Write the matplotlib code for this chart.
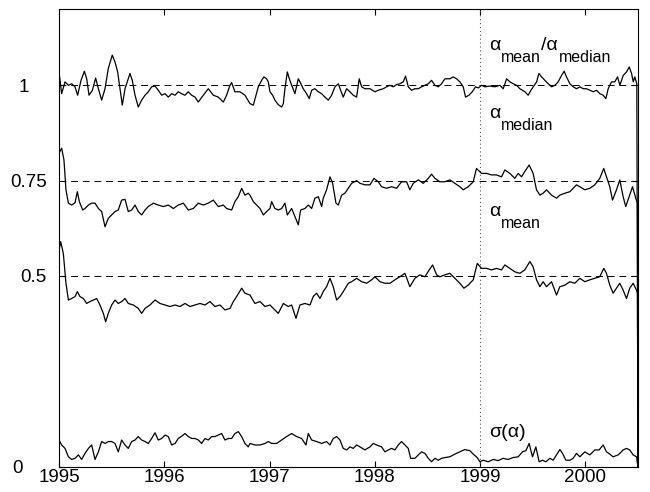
import numpy as np
import matplotlib
matplotlib.use("Agg")
import matplotlib.pyplot as plt
from matplotlib.transforms import ScaledTranslation

plt.rcParams['font.family'] = ['Liberation Sans', 'DejaVu Sans']

# ratio alpha_mean / alpha_median
t_ratio = [1995.000, 1995.025, 1995.057, 1995.089, 1995.120, 1995.152, 1995.177, 1995.209, 1995.241, 1995.263,
           1995.285, 1995.317, 1995.348, 1995.374, 1995.405, 1995.437, 1995.468, 1995.506, 1995.532, 1995.557,
           1995.579, 1995.601, 1995.627, 1995.658, 1995.674, 1995.696, 1995.722, 1995.753, 1995.785, 1995.817,
           1995.848, 1995.880, 1995.912, 1995.943, 1995.975, 1996.007, 1996.038, 1996.070, 1996.102, 1996.133,
           1996.165, 1996.197, 1996.228, 1996.260, 1996.292, 1996.323, 1996.371, 1996.418, 1996.466, 1996.513,
           1996.561, 1996.592, 1996.624, 1996.640, 1996.671, 1996.719, 1996.766, 1996.814,
           1996.846, 1996.871, 1996.893, 1996.925, 1996.947, 1996.972, 1996.988, 1997.004, 1997.029, 1997.051,
           1997.083, 1997.115, 1997.131, 1997.146, 1997.169, 1997.188, 1997.210, 1997.241, 1997.273, 1997.289,
           1997.320, 1997.352, 1997.377, 1997.400, 1997.431, 1997.463, 1997.495, 1997.526, 1997.558, 1997.590,
           1997.621, 1997.653, 1997.675, 1997.700, 1997.732, 1997.764, 1997.795, 1997.827, 1997.852, 1997.875,
           1997.906, 1997.954, 1998.001, 1998.033, 1998.080, 1998.112, 1998.144, 1998.175, 1998.207, 1998.238,
           1998.270, 1998.292, 1998.318, 1998.349, 1998.381, 1998.413, 1998.444, 1998.476, 1998.508, 1998.539,
           1998.571, 1998.603, 1998.634, 1998.666, 1998.697,
           1998.713, 1998.745, 1998.777, 1998.808, 1998.840, 1998.862, 1998.894, 1998.926, 1998.957, 1998.983,
           1999.014, 1999.046, 1999.093, 1999.141, 1999.188, 1999.220, 1999.252, 1999.283, 1999.315, 1999.347,
           1999.378, 1999.426, 1999.457, 1999.483, 1999.505, 1999.537, 1999.559, 1999.584, 1999.616, 1999.647,
           1999.679, 1999.711, 1999.742, 1999.774, 1999.799, 1999.821, 1999.853, 1999.885, 1999.916, 1999.948,
           1999.980, 2000.011, 2000.043, 2000.075, 2000.106, 2000.138, 2000.170, 2000.195, 2000.217, 2000.249,
           2000.280, 2000.306, 2000.328, 2000.360, 2000.391, 2000.417, 2000.439, 2000.455, 2000.470, 2000.489,
           2000.500]
ratio = [1.035, 0.978, 1.009, 1.000, 1.004, 0.996, 0.974, 1.013, 1.037, 1.017,
         0.974, 0.987, 1.019, 0.991, 0.961, 0.991, 1.044, 1.079, 1.061, 1.035,
         0.991, 0.948, 0.991, 1.017, 1.031, 1.013, 0.974, 0.943, 0.961, 0.974,
         0.983, 0.996, 0.998, 0.987, 0.974, 0.978, 0.969, 0.978, 0.974, 0.983,
         0.978, 0.974, 0.983, 0.974, 0.969, 0.956, 0.974, 0.991, 0.974, 0.969,
         0.956, 0.974, 1.000, 1.007, 0.983, 0.983, 0.974, 0.952,
         0.948, 0.974, 0.996, 1.013, 1.022, 1.017, 1.009, 0.983, 0.974, 0.961,
         0.949, 0.943, 0.952, 0.991, 1.035, 1.017, 1.000, 0.978, 1.017, 1.009,
         0.991, 0.978, 0.965, 0.987, 0.991, 0.983, 0.978, 0.969, 0.961, 0.974,
         0.996, 1.004, 0.987, 0.969, 0.991, 0.983, 0.974, 0.969, 1.017, 0.996,
         0.991, 0.991, 0.983, 0.987, 0.991, 0.996, 1.000, 0.996, 1.002, 1.004,
         1.009, 1.024, 0.996, 0.987, 0.991, 0.991, 0.996, 1.000, 1.004, 1.013,
         1.000, 0.996, 1.004, 1.017, 1.017,
         1.017, 1.022, 1.017, 1.009, 0.996, 0.969, 0.974, 0.983, 0.996, 0.993,
         1.000, 0.996, 0.998, 0.996, 1.000, 0.991, 1.017, 1.009, 1.004, 1.000,
         0.991, 0.983, 0.974, 0.987, 0.996, 1.009, 1.031, 1.022, 1.013, 1.004,
         0.996, 1.000, 1.009, 1.026, 1.037, 1.022, 1.004, 0.996, 0.991, 0.996,
         0.991, 0.991, 0.987, 0.983, 0.987, 0.978, 0.974, 0.965, 0.991, 1.009,
         1.009, 1.022, 1.000, 1.026, 1.035, 1.048, 1.031, 1.009, 1.022, 1.004,
         0.0]

# median exponent
t_median = [1995.000, 1995.025, 1995.047, 1995.066, 1995.089, 1995.120, 1995.152, 1995.174, 1995.193, 1995.225,
            1995.247, 1995.279, 1995.310, 1995.342, 1995.374, 1995.405, 1995.437, 1995.468, 1995.500, 1995.532,
            1995.563, 1995.595, 1995.627, 1995.658, 1995.690, 1995.722, 1995.753, 1995.785, 1995.817, 1995.848,
            1995.896, 1995.943, 1995.991, 1996.038, 1996.086, 1996.133, 1996.181, 1996.228, 1996.276, 1996.323,
            1996.371, 1996.418, 1996.466, 1996.513, 1996.561, 1996.592, 1996.640, 1996.671, 1996.703, 1996.735,
            1996.766, 1996.798,
            1996.814, 1996.846, 1996.877, 1996.909, 1996.941, 1996.972, 1997.004, 1997.020, 1997.051, 1997.083,
            1997.115, 1997.146, 1997.169, 1997.210, 1997.241, 1997.273, 1997.295, 1997.336, 1997.368, 1997.400,
            1997.431, 1997.463, 1997.495, 1997.510, 1997.542, 1997.574, 1997.599, 1997.631, 1997.653, 1997.685,
            1997.716, 1997.748, 1997.780, 1997.827, 1997.859, 1997.906, 1997.954, 1997.992, 1998.033, 1998.064,
            1998.112, 1998.159, 1998.207, 1998.254, 1998.302, 1998.333, 1998.365, 1998.413, 1998.460, 1998.508,
            1998.539, 1998.571, 1998.618,
            1998.665, 1998.713, 1998.760, 1998.808, 1998.840, 1998.887, 1998.935, 1998.966, 1999.014, 1999.061,
            1999.109, 1999.156, 1999.204, 1999.235, 1999.283, 1999.330, 1999.362, 1999.394, 1999.425, 1999.466,
            1999.504, 1999.536, 1999.568, 1999.599, 1999.631, 1999.679, 1999.726, 1999.758, 1999.805, 1999.853,
            1999.884, 1999.916, 1999.948, 1999.995, 2000.043, 2000.090, 2000.137, 2000.175, 2000.201, 2000.232,
            2000.258, 2000.296, 2000.327, 2000.359, 2000.384, 2000.416, 2000.448, 2000.479, 2000.495, 2000.500]
median = [0.822, 0.835, 0.804, 0.726, 0.691, 0.686, 0.692, 0.721, 0.695, 0.673,
          0.677, 0.686, 0.691, 0.691, 0.677, 0.669, 0.629, 0.651, 0.660, 0.669,
          0.673, 0.699, 0.701, 0.669, 0.673, 0.686, 0.669, 0.660, 0.673, 0.682,
          0.691, 0.686, 0.682, 0.686, 0.677, 0.686, 0.691, 0.673, 0.677, 0.691,
          0.686, 0.691, 0.699, 0.682, 0.686, 0.677, 0.673, 0.695, 0.708, 0.730,
          0.712, 0.717,
          0.712, 0.695, 0.686, 0.677, 0.660, 0.669, 0.677, 0.695, 0.677, 0.673,
          0.677, 0.691, 0.660, 0.677, 0.656, 0.634, 0.673, 0.677, 0.686, 0.677,
          0.704, 0.708, 0.682, 0.704, 0.726, 0.760, 0.743, 0.691, 0.686, 0.712,
          0.717, 0.730, 0.743, 0.750, 0.743, 0.739, 0.739, 0.756, 0.747, 0.734,
          0.730, 0.734, 0.730, 0.747, 0.747, 0.726, 0.743, 0.752, 0.743, 0.756,
          0.767, 0.756, 0.747,
          0.747, 0.752, 0.743, 0.734, 0.726, 0.734, 0.747, 0.782, 0.769, 0.769,
          0.765, 0.765, 0.760, 0.778, 0.769, 0.756, 0.769, 0.760, 0.774, 0.791,
          0.769, 0.726, 0.712, 0.717, 0.726, 0.712, 0.704, 0.712, 0.717, 0.721,
          0.730, 0.739, 0.734, 0.726, 0.730, 0.739, 0.756, 0.782, 0.760, 0.734,
          0.699, 0.726, 0.752, 0.708, 0.682, 0.708, 0.734, 0.704, 0.691, 0.0]

# mean exponent
t_mean = [1995.000, 1995.016, 1995.041, 1995.066, 1995.089, 1995.120, 1995.152, 1995.174, 1995.199, 1995.231,
          1995.263, 1995.294, 1995.326, 1995.358, 1995.389, 1995.421, 1995.443, 1995.468, 1995.500, 1995.532,
          1995.563, 1995.595, 1995.627, 1995.658, 1995.706, 1995.753, 1995.785, 1995.817, 1995.864, 1995.912,
          1995.959, 1996.007, 1996.054, 1996.102, 1996.149, 1996.197, 1996.244, 1996.292, 1996.339, 1996.387,
          1996.434, 1996.481, 1996.529, 1996.576, 1996.624, 1996.656, 1996.687, 1996.735, 1996.766, 1996.814,
          1996.861, 1996.909, 1996.957, 1997.004, 1997.036, 1997.083, 1997.131, 1997.178, 1997.210, 1997.251,
          1997.289, 1997.336, 1997.384, 1997.415, 1997.447, 1997.479, 1997.510, 1997.542, 1997.574, 1997.605,
          1997.637, 1997.669, 1997.700, 1997.748, 1997.780, 1997.827, 1997.875, 1997.922, 1997.970, 1998.001,
          1998.049, 1998.096, 1998.144, 1998.191, 1998.238, 1998.286, 1998.333, 1998.381, 1998.428, 1998.476,
          1998.517, 1998.549, 1998.587,
          1998.618, 1998.665, 1998.713, 1998.760, 1998.808, 1998.846, 1998.887, 1998.935, 1998.973, 1999.014,
          1999.061, 1999.109, 1999.156, 1999.204, 1999.235, 1999.283, 1999.330, 1999.378, 1999.425, 1999.473,
          1999.504, 1999.536, 1999.568, 1999.599, 1999.631, 1999.679, 1999.726, 1999.758, 1999.805, 1999.853,
          1999.900, 1999.948, 1999.995, 2000.043, 2000.090, 2000.137, 2000.175, 2000.201, 2000.232, 2000.264,
          2000.296, 2000.327, 2000.359, 2000.391, 2000.422, 2000.454, 2000.486, 2000.495, 2000.500]
mean = [0.568, 0.590, 0.559, 0.481, 0.437, 0.441, 0.446, 0.459, 0.446, 0.441,
        0.428, 0.433, 0.437, 0.441, 0.424, 0.402, 0.380, 0.402, 0.424, 0.437,
        0.428, 0.433, 0.441, 0.428, 0.424, 0.415, 0.402, 0.415, 0.424, 0.437,
        0.428, 0.424, 0.420, 0.424, 0.420, 0.428, 0.420, 0.424, 0.428, 0.424,
        0.433, 0.420, 0.424, 0.411, 0.415, 0.433, 0.446, 0.468, 0.455, 0.450,
        0.428, 0.433, 0.420, 0.424, 0.415, 0.402, 0.428, 0.420, 0.424, 0.389,
        0.424, 0.428, 0.424, 0.446, 0.455, 0.441, 0.459, 0.472, 0.494, 0.472,
        0.437, 0.446, 0.459, 0.481, 0.485, 0.494, 0.485, 0.481, 0.490, 0.498,
        0.485, 0.481, 0.481, 0.490, 0.498, 0.507, 0.472, 0.494, 0.503, 0.498,
        0.516, 0.529, 0.503,
        0.498, 0.503, 0.507, 0.494, 0.481, 0.468, 0.476, 0.490, 0.533, 0.520,
        0.520, 0.516, 0.520, 0.516, 0.529, 0.520, 0.511, 0.507, 0.516, 0.538,
        0.524, 0.490, 0.472, 0.485, 0.472, 0.485, 0.450, 0.472, 0.476, 0.485,
        0.481, 0.494, 0.485, 0.490, 0.494, 0.498, 0.520, 0.507, 0.476, 0.455,
        0.468, 0.481, 0.463, 0.441, 0.468, 0.481, 0.463, 0.455, 0.0]

# spread sigma(alpha)
t_sigma = [1995.000, 1995.025, 1995.057, 1995.089, 1995.120, 1995.152, 1995.184, 1995.215, 1995.247, 1995.279,
           1995.310, 1995.342, 1995.374, 1995.405, 1995.437, 1995.468, 1995.500, 1995.532, 1995.563, 1995.595,
           1995.627, 1995.658, 1995.690, 1995.722, 1995.753, 1995.785, 1995.817, 1995.848, 1995.880, 1995.912,
           1995.943, 1995.975, 1996.007, 1996.038, 1996.070, 1996.102, 1996.133, 1996.165, 1996.197, 1996.228,
           1996.260, 1996.292, 1996.323, 1996.355, 1996.387, 1996.418, 1996.450, 1996.481, 1996.513, 1996.545,
           1996.576, 1996.608, 1996.640, 1996.671, 1996.703, 1996.735, 1996.766, 1996.798,
           1996.814, 1996.861, 1996.909, 1996.957, 1996.988, 1997.020, 1997.067, 1997.115, 1997.162, 1997.210,
           1997.257, 1997.305, 1997.346, 1997.368, 1997.400, 1997.447, 1997.495, 1997.542, 1997.574, 1997.605,
           1997.637, 1997.669, 1997.700, 1997.732, 1997.764, 1997.795, 1997.827, 1997.859, 1997.906, 1997.954,
           1997.985, 1998.017, 1998.064, 1998.096, 1998.128, 1998.159, 1998.191, 1998.223, 1998.254, 1998.286,
           1998.318, 1998.340, 1998.381, 1998.413, 1998.444, 1998.476, 1998.508, 1998.539, 1998.571, 1998.603,
           1998.634,
           1998.665, 1998.713, 1998.760, 1998.808, 1998.855, 1998.903, 1998.935, 1998.973, 1998.998, 1999.030,
           1999.077, 1999.125, 1999.172, 1999.219, 1999.267, 1999.314, 1999.362, 1999.403, 1999.435, 1999.466,
           1999.498, 1999.530, 1999.561, 1999.593, 1999.625, 1999.663, 1999.694, 1999.726, 1999.758, 1999.783,
           1999.815, 1999.853, 1999.884, 1999.916, 1999.948, 1999.995, 2000.043, 2000.090, 2000.131, 2000.169,
           2000.201, 2000.232, 2000.264, 2000.312, 2000.359, 2000.391, 2000.422, 2000.454, 2000.486, 2000.500]
sigma = [0.070, 0.057, 0.048, 0.026, 0.019, 0.022, 0.031, 0.019, 0.035, 0.048,
         0.057, 0.019, 0.039, 0.066, 0.061, 0.066, 0.066, 0.061, 0.039, 0.070,
         0.057, 0.048, 0.066, 0.070, 0.079, 0.070, 0.066, 0.061, 0.074, 0.089,
         0.070, 0.074, 0.083, 0.079, 0.057, 0.061, 0.074, 0.080, 0.087, 0.079,
         0.074, 0.074, 0.070, 0.061, 0.074, 0.070, 0.079, 0.079, 0.083, 0.087,
         0.070, 0.074, 0.074, 0.087, 0.092, 0.079, 0.061, 0.052,
         0.061, 0.057, 0.057, 0.061, 0.066, 0.061, 0.061, 0.070, 0.079, 0.087,
         0.079, 0.074, 0.057, 0.087, 0.070, 0.066, 0.061, 0.066, 0.057, 0.074,
         0.079, 0.070, 0.048, 0.044, 0.052, 0.048, 0.057, 0.052, 0.044, 0.052,
         0.061, 0.057, 0.052, 0.039, 0.044, 0.048, 0.044, 0.057, 0.066, 0.057,
         0.048, 0.022, 0.022, 0.031, 0.039, 0.035, 0.022, 0.013, 0.022, 0.017,
         0.022,
         0.024, 0.026, 0.033, 0.039, 0.045, 0.042, 0.033, 0.024, 0.013, 0.017,
         0.013, 0.019, 0.016, 0.022, 0.019, 0.024, 0.026, 0.039, 0.042, 0.061,
         0.026, 0.052, 0.013, 0.017, 0.013, 0.022, 0.017, 0.031, 0.045, 0.035,
         0.017, 0.017, 0.022, 0.035, 0.026, 0.039, 0.031, 0.044, 0.044, 0.057,
         0.039, 0.033, 0.026, 0.031, 0.044, 0.048, 0.044, 0.031, 0.026, 0.0]

ref_levels = [0.5, 0.75, 1.0]
year_ticks = [1995, 1996, 1997, 1998, 1999, 2000]
y_ticks = [0, 0.5, 0.75, 1]
y_ticklabels = ['0', '0.5', '0.75', '1']
# extra left shift (pixels) of the short y labels
y_label_shift = [-24, 0, 0, -18]

fig = plt.figure(figsize=(6.5, 4.92), dpi=100)
ax = fig.add_axes([0.0908, 0.0514, 0.8907, 0.9303])

for lev in ref_levels:
    ax.axhline(lev, color='k', lw=0.7, ls=(0, (7, 5)))
ax.axvline(1999, color='0.35', lw=0.8, ls=(0, (1, 2.5)))

for t, v in [(t_ratio, ratio), (t_median, median), (t_mean, mean), (t_sigma, sigma)]:
    ax.plot(t, v, color='k', lw=0.9)

ax.set_xlim(1995, 2000.5)
ax.set_ylim(0, 1.2)
ax.set_xticks(year_ticks)
ax.set_yticks(y_ticks)
ax.set_yticklabels(y_ticklabels)
ax.tick_params(direction='in', top=True, right=True, length=4, width=0.8, labelsize=13.5)
ax.tick_params(axis='x', pad=2)
ax.tick_params(axis='y', pad=9)
for s in ax.spines.values():
    s.set_linewidth(0.8)
for lab, dx in zip(ax.get_yticklabels(), y_label_shift):
    lab.set_transform(lab.get_transform() + ScaledTranslation(dx / 100, 0, fig.dpi_scale_trans))


def chain_label(x, y, parts, size=14, sub=11.5):
    # parts: list of (text, is_subscript); subscripts sit lower and smaller
    first = ax.text(x, y, parts[0][0], fontsize=size, va='baseline')
    prev, prev_sub = first, parts[0][1]
    for txt, is_sub in parts[1:]:
        dy = 0
        if is_sub and not prev_sub:
            dy = -8
        elif prev_sub and not is_sub:
            dy = 8
        prev = ax.annotate(txt, xy=(1, 0), xycoords=prev, xytext=(0.3, dy),
                           textcoords='offset points', va='bottom',
                           fontsize=sub if is_sub else size)
        prev_sub = is_sub


chain_label(1999.088, 1.093, [('α', False), ('mean', True), ('/α', False), ('median', True)])
chain_label(1999.088, 0.914, [('α', False), ('median', True)])
chain_label(1999.088, 0.657, [('α', False), ('mean', True)])
ax.text(1999.088, 0.078, 'σ(α)', fontsize=14, va='baseline')

fig.savefig('out.png', dpi=100)
